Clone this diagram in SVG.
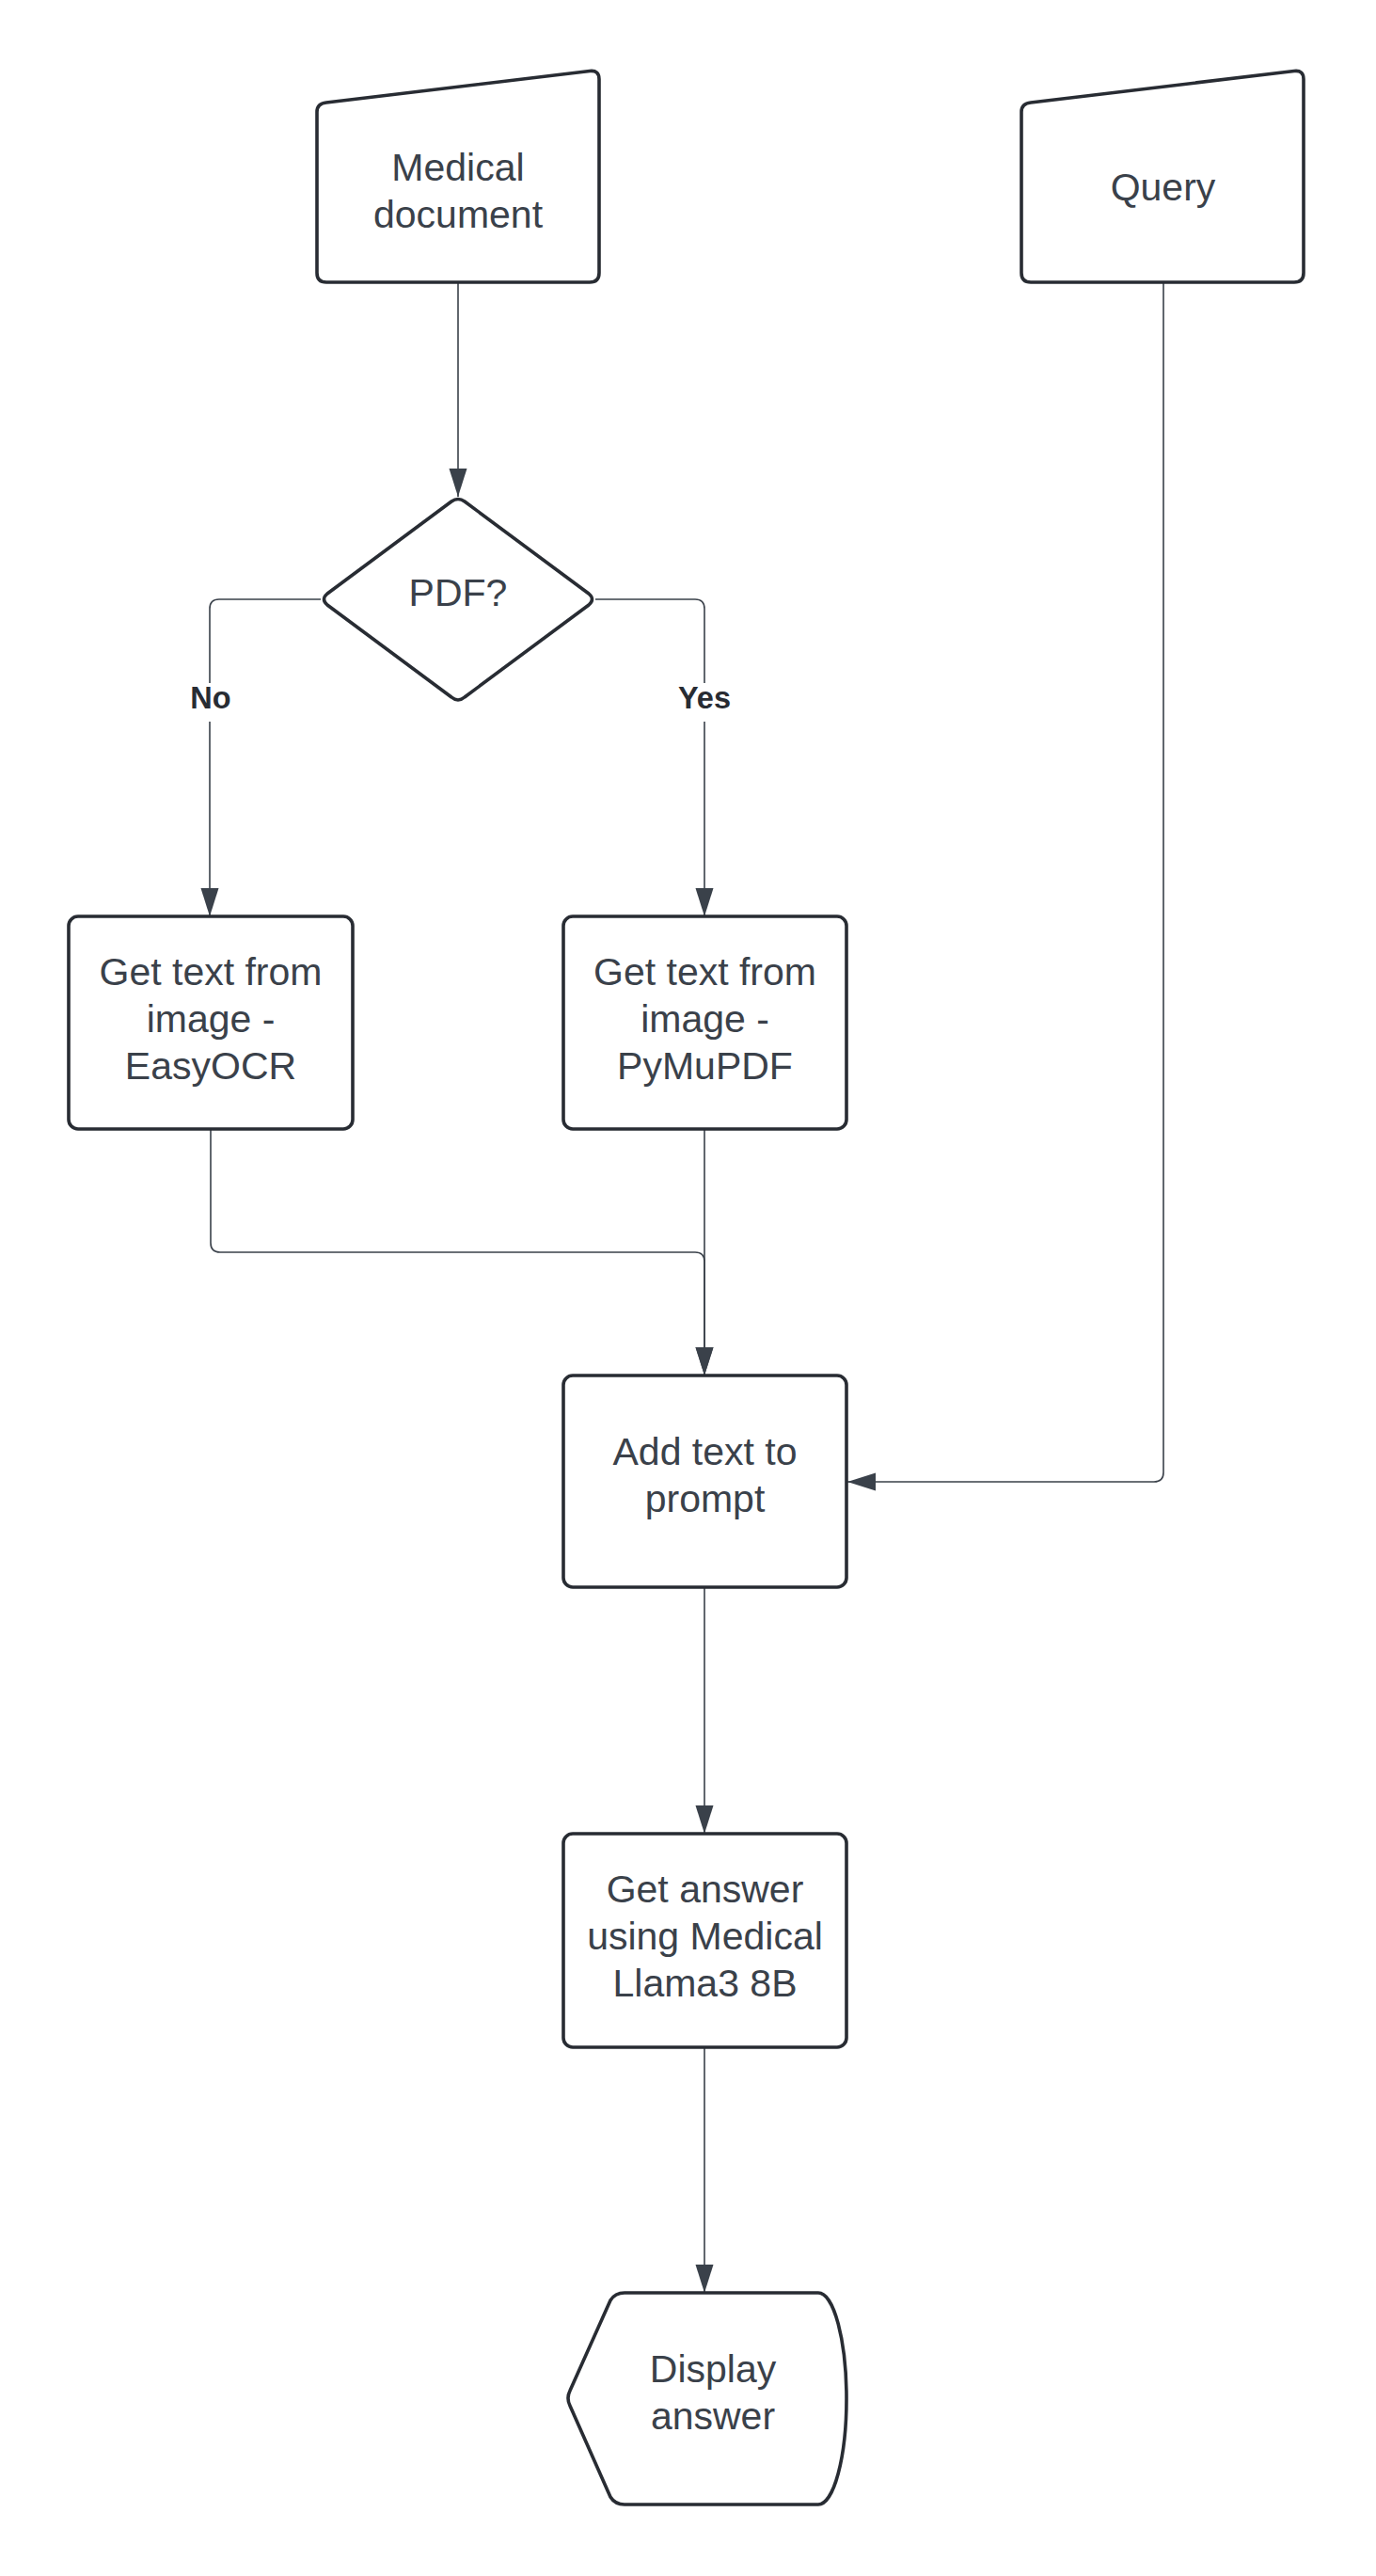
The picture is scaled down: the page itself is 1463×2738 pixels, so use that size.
<svg xmlns="http://www.w3.org/2000/svg" width="1463" height="2738" viewBox="0 0 1463 2738">
<defs>
<style>
.node{fill:#ffffff;stroke:#282c33;stroke-width:3.6;stroke-linejoin:round}
.lbl{font-family:"Liberation Sans",Arial,sans-serif;font-size:41px;fill:#3a414a;text-anchor:middle}
.edge{fill:none;stroke:#3a414a;stroke-width:1.6}
.elbl{font-family:"Liberation Sans",Arial,sans-serif;font-size:32.5px;font-weight:bold;fill:#282c33;text-anchor:middle}
</style>
<marker id="arr" markerUnits="userSpaceOnUse" markerWidth="30" markerHeight="20" viewBox="0 0 30 20" refX="30" refY="10" orient="auto">
<path d="M0,0.5 L30,10 L0,19.5 Z" fill="#3a414a"/>
</marker>
</defs>
<rect width="1463" height="2738" fill="#ffffff"/>

<g id="connectors">
<path class="edge" d="M487 300 L487 528" marker-end="url(#arr)"/>
<path class="edge" d="M341 637 L233 637 Q223 637 223 647 L223 974" marker-end="url(#arr)"/>
<path class="edge" d="M633 637 L739 637 Q749 637 749 647 L749 974" marker-end="url(#arr)"/>
<path class="edge" d="M224 1200 L224 1321 Q224 1331 234 1331 L739 1331 Q749 1331 749 1341 L749 1462" marker-end="url(#arr)"/>
<path class="edge" d="M749 1200 L749 1462" marker-end="url(#arr)"/>
<path class="edge" d="M1237 300 L1237 1565 Q1237 1575 1227 1575 L901 1575" marker-end="url(#arr)"/>
<path class="edge" d="M749 1687 L749 1949" marker-end="url(#arr)"/>
<path class="edge" d="M749 2176 L749 2437" marker-end="url(#arr)"/>
<rect x="198" y="726" width="52" height="41" fill="#ffffff"/>
<text class="elbl" x="224" y="753">No</text>
<rect x="717" y="726" width="64" height="41" fill="#ffffff"/>
<text class="elbl" x="749" y="753">Yes</text>
</g>

<g id="medical-document">
<path class="node" d="M347 109 L627 75.5 Q637 74.3 637 84 L637 290 Q637 300 627 300 L347 300 Q337 300 337 290 L337 119 Q337 110 347 109 Z"/>
<text class="lbl" x="487" y="192">Medical</text>
<text class="lbl" x="487" y="242">document</text>
</g>

<g id="query">
<path class="node" d="M1096 109 L1376 75.5 Q1386 74.3 1386 84 L1386 290 Q1386 300 1376 300 L1096 300 Q1086 300 1086 290 L1086 119 Q1086 110 1096 109 Z"/>
<text class="lbl" x="1236.5" y="213">Query</text>
</g>

<g id="pdf-decision">
<path class="node" d="M480 533 Q487 528 494 533 L626 631 Q633 637 626 643 L494 741 Q487 747 480 741 L348 643 Q341 637 348 631 Z"/>
<text class="lbl" x="487" y="644">PDF?</text>
</g>

<g id="easyocr">
<rect class="node" x="73" y="974" width="302" height="226" rx="10"/>
<text class="lbl" x="224" y="1047">Get text from</text>
<text class="lbl" x="224" y="1097">image -</text>
<text class="lbl" x="224" y="1147">EasyOCR</text>
</g>

<g id="pymupdf">
<rect class="node" x="599" y="974" width="301" height="226" rx="10"/>
<text class="lbl" x="749.5" y="1047">Get text from</text>
<text class="lbl" x="749.5" y="1097">image -</text>
<text class="lbl" x="749.5" y="1147">PyMuPDF</text>
</g>

<g id="add-text">
<rect class="node" x="599" y="1462" width="301" height="225" rx="10"/>
<text class="lbl" x="749.5" y="1557">Add text to</text>
<text class="lbl" x="749.5" y="1607">prompt</text>
</g>

<g id="get-answer">
<rect class="node" x="599" y="1949" width="301" height="227" rx="10"/>
<text class="lbl" x="749.5" y="2022">Get answer</text>
<text class="lbl" x="749.5" y="2072">using Medical</text>
<text class="lbl" x="749.5" y="2122">Llama3 8B</text>
</g>

<g id="display-answer">
<path class="node" d="M664 2437 L870 2437 A30 112.5 0 0 1 870 2662 L664 2662 Q654 2662 649 2654 L606 2557 Q602 2549 606 2541 L649 2445 Q654 2437 664 2437 Z"/>
<text class="lbl" x="758" y="2532">Display</text>
<text class="lbl" x="758" y="2582">answer</text>
</g>
</svg>
